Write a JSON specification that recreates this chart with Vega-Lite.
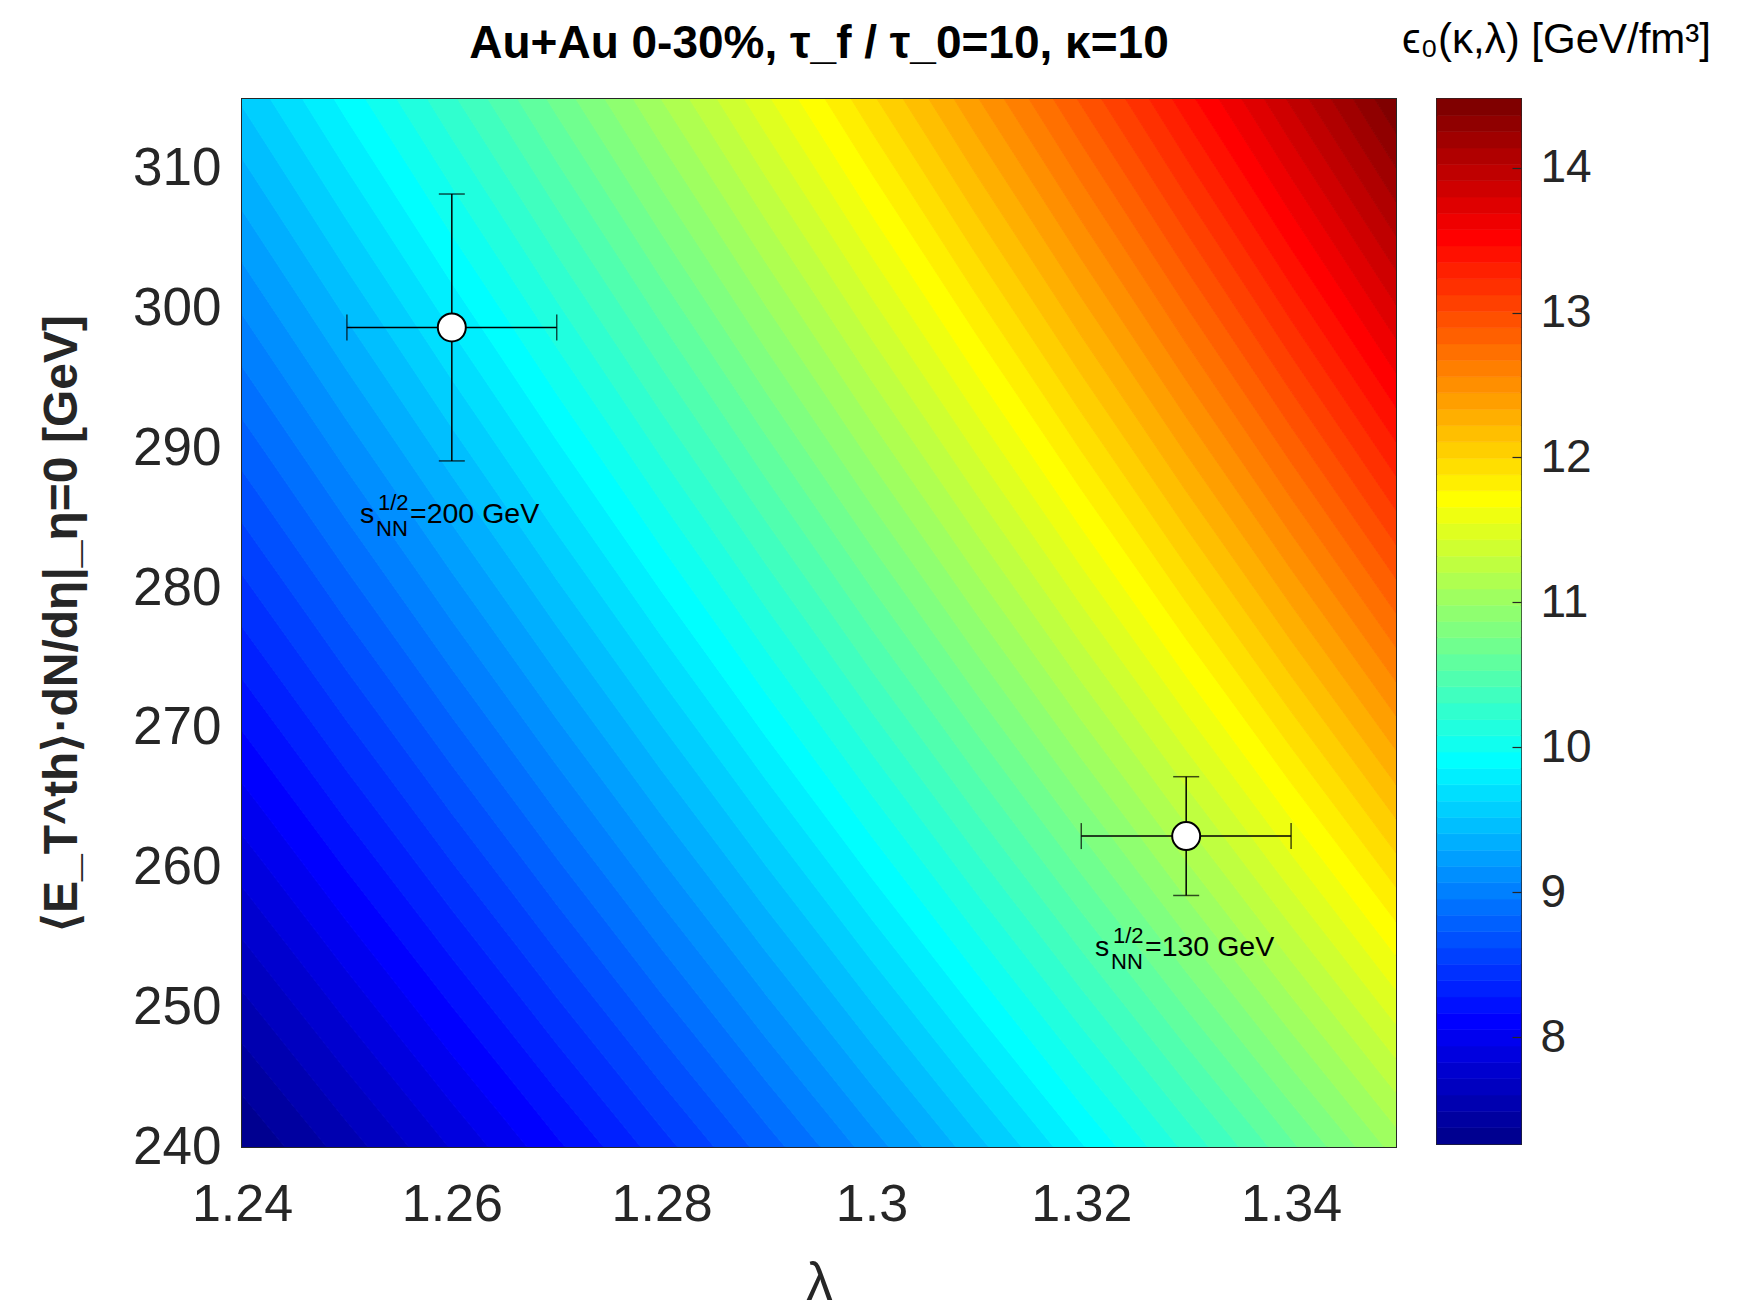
{
"$schema":"https://vega.github.io/schema/vega-lite/v6.json",
"background":"white",
"autosize":{"type":"pad"},
"padding":{"left":37,"top":17,"right":5,"bottom":0},
"bounds":"flush",
"spacing":41,
"config":{"font":"Liberation Sans","view":{"stroke":"#262626","strokeWidth":2},"axis":{"labelFont":"Liberation Sans","titleFont":"Liberation Sans","labelColor":"#262626","titleColor":"#262626","grid":false},"title":{"font":"Liberation Sans"}},
"datasets":{
"pts":[{"l":1.26,"lo":1.25,"hi":1.27,"e":298.65,"elo":289.1,"ehi":308.2},{"l":1.33,"lo":1.32,"hi":1.34,"e":262.25,"elo":258.0,"ehi":266.5}],
"ann":[{"lx":1.25125,"ly":284.66,"t":"=200 GeV"},{"lx":1.32131,"ly":253.67,"t":"=130 GeV"}],
"lev":[{"v":7.318,"lo":7.262,"hi":7.375},{"v":7.431,"lo":7.375,"hi":7.487},{"v":7.544,"lo":7.487,"hi":7.6},{"v":7.657,"lo":7.6,"hi":7.713},{"v":7.769,"lo":7.713,"hi":7.825},{"v":7.882,"lo":7.825,"hi":7.938},{"v":7.995,"lo":7.938,"hi":8.051},{"v":8.107,"lo":8.051,"hi":8.164},{"v":8.22,"lo":8.164,"hi":8.276},{"v":8.333,"lo":8.276,"hi":8.389},{"v":8.445,"lo":8.389,"hi":8.502},{"v":8.558,"lo":8.502,"hi":8.614},{"v":8.671,"lo":8.614,"hi":8.727},{"v":8.783,"lo":8.727,"hi":8.84},{"v":8.896,"lo":8.84,"hi":8.952},{"v":9.009,"lo":8.952,"hi":9.065},{"v":9.121,"lo":9.065,"hi":9.178},{"v":9.234,"lo":9.178,"hi":9.29},{"v":9.347,"lo":9.29,"hi":9.403},{"v":9.46,"lo":9.403,"hi":9.516},{"v":9.572,"lo":9.516,"hi":9.628},{"v":9.685,"lo":9.628,"hi":9.741},{"v":9.798,"lo":9.741,"hi":9.854},{"v":9.91,"lo":9.854,"hi":9.967},{"v":10.023,"lo":9.967,"hi":10.079},{"v":10.136,"lo":10.079,"hi":10.192},{"v":10.248,"lo":10.192,"hi":10.305},{"v":10.361,"lo":10.305,"hi":10.417},{"v":10.474,"lo":10.417,"hi":10.53},{"v":10.586,"lo":10.53,"hi":10.643},{"v":10.699,"lo":10.643,"hi":10.755},{"v":10.812,"lo":10.755,"hi":10.868},{"v":10.924,"lo":10.868,"hi":10.981},{"v":11.037,"lo":10.981,"hi":11.093},{"v":11.15,"lo":11.093,"hi":11.206},{"v":11.262,"lo":11.206,"hi":11.319},{"v":11.375,"lo":11.319,"hi":11.432},{"v":11.488,"lo":11.432,"hi":11.544},{"v":11.601,"lo":11.544,"hi":11.657},{"v":11.713,"lo":11.657,"hi":11.77},{"v":11.826,"lo":11.77,"hi":11.882},{"v":11.939,"lo":11.882,"hi":11.995},{"v":12.051,"lo":11.995,"hi":12.108},{"v":12.164,"lo":12.108,"hi":12.22},{"v":12.277,"lo":12.22,"hi":12.333},{"v":12.389,"lo":12.333,"hi":12.446},{"v":12.502,"lo":12.446,"hi":12.558},{"v":12.615,"lo":12.558,"hi":12.671},{"v":12.727,"lo":12.671,"hi":12.784},{"v":12.84,"lo":12.784,"hi":12.896},{"v":12.953,"lo":12.896,"hi":13.009},{"v":13.065,"lo":13.009,"hi":13.122},{"v":13.178,"lo":13.122,"hi":13.235},{"v":13.291,"lo":13.235,"hi":13.347},{"v":13.403,"lo":13.347,"hi":13.46},{"v":13.516,"lo":13.46,"hi":13.573},{"v":13.629,"lo":13.573,"hi":13.685},{"v":13.742,"lo":13.685,"hi":13.798},{"v":13.854,"lo":13.798,"hi":13.911},{"v":13.967,"lo":13.911,"hi":14.023},{"v":14.08,"lo":14.023,"hi":14.136},{"v":14.192,"lo":14.136,"hi":14.249},{"v":14.305,"lo":14.249,"hi":14.361},{"v":14.418,"lo":14.361,"hi":14.474}],
"bands":[
{"v":7.318,"l":1.24,"y":240,"y2":243.72},{"v":7.431,"l":1.24,"y":243.72,"y2":247.45},{"v":7.544,"l":1.24,"y":247.45,"y2":251.17},{"v":7.657,"l":1.24,"y":251.17,"y2":254.9},{"v":7.769,"l":1.24,"y":254.9,"y2":258.62},{"v":7.882,"l":1.24,"y":258.62,"y2":262.35},{"v":7.995,"l":1.24,"y":262.35,"y2":266.07},{"v":8.107,"l":1.24,"y":266.07,"y2":269.79},{"v":8.22,"l":1.24,"y":269.79,"y2":273.52},{"v":8.333,"l":1.24,"y":273.52,"y2":277.24},{"v":8.445,"l":1.24,"y":277.24,"y2":280.97},{"v":8.558,"l":1.24,"y":280.97,"y2":284.69},{"v":8.671,"l":1.24,"y":284.69,"y2":288.42},{"v":8.783,"l":1.24,"y":288.42,"y2":292.14},{"v":8.896,"l":1.24,"y":292.14,"y2":295.86},{"v":9.009,"l":1.24,"y":295.86,"y2":299.59},{"v":9.121,"l":1.24,"y":299.59,"y2":303.31},{"v":9.234,"l":1.24,"y":303.31,"y2":307.04},{"v":9.347,"l":1.24,"y":307.04,"y2":310.76},{"v":9.46,"l":1.24,"y":310.76,"y2":314.48},{"v":9.572,"l":1.24,"y":314.48,"y2":318.21},{"v":9.685,"l":1.24,"y":318.21,"y2":321.93},{"v":9.798,"l":1.24,"y":321.93,"y2":325.66},{"v":9.91,"l":1.24,"y":325.66,"y2":329.38},
{"v":7.318,"l":1.25,"y":231.06,"y2":234.64},{"v":7.431,"l":1.25,"y":234.64,"y2":238.23},{"v":7.544,"l":1.25,"y":238.23,"y2":241.81},{"v":7.657,"l":1.25,"y":241.81,"y2":245.4},{"v":7.769,"l":1.25,"y":245.4,"y2":248.98},{"v":7.882,"l":1.25,"y":248.98,"y2":252.57},{"v":7.995,"l":1.25,"y":252.57,"y2":256.15},{"v":8.107,"l":1.25,"y":256.15,"y2":259.74},{"v":8.22,"l":1.25,"y":259.74,"y2":263.32},{"v":8.333,"l":1.25,"y":263.32,"y2":266.91},{"v":8.445,"l":1.25,"y":266.91,"y2":270.49},{"v":8.558,"l":1.25,"y":270.49,"y2":274.08},{"v":8.671,"l":1.25,"y":274.08,"y2":277.67},{"v":8.783,"l":1.25,"y":277.67,"y2":281.25},{"v":8.896,"l":1.25,"y":281.25,"y2":284.84},{"v":9.009,"l":1.25,"y":284.84,"y2":288.42},{"v":9.121,"l":1.25,"y":288.42,"y2":292.01},{"v":9.234,"l":1.25,"y":292.01,"y2":295.59},{"v":9.347,"l":1.25,"y":295.59,"y2":299.18},{"v":9.46,"l":1.25,"y":299.18,"y2":302.76},{"v":9.572,"l":1.25,"y":302.76,"y2":306.35},{"v":9.685,"l":1.25,"y":306.35,"y2":309.93},{"v":9.798,"l":1.25,"y":309.93,"y2":313.52},{"v":9.91,"l":1.25,"y":313.52,"y2":317.11},{"v":10.023,"l":1.25,"y":317.11,"y2":320.69},{"v":10.136,"l":1.25,"y":320.69,"y2":324.28},{"v":10.248,"l":1.25,"y":324.28,"y2":327.86},
{"v":7.544,"l":1.26,"y":229.35,"y2":232.81},{"v":7.657,"l":1.26,"y":232.81,"y2":236.26},{"v":7.769,"l":1.26,"y":236.26,"y2":239.71},{"v":7.882,"l":1.26,"y":239.71,"y2":243.16},{"v":7.995,"l":1.26,"y":243.16,"y2":246.61},{"v":8.107,"l":1.26,"y":246.61,"y2":250.07},{"v":8.22,"l":1.26,"y":250.07,"y2":253.52},{"v":8.333,"l":1.26,"y":253.52,"y2":256.97},{"v":8.445,"l":1.26,"y":256.97,"y2":260.42},{"v":8.558,"l":1.26,"y":260.42,"y2":263.87},{"v":8.671,"l":1.26,"y":263.87,"y2":267.32},{"v":8.783,"l":1.26,"y":267.32,"y2":270.78},{"v":8.896,"l":1.26,"y":270.78,"y2":274.23},{"v":9.009,"l":1.26,"y":274.23,"y2":277.68},{"v":9.121,"l":1.26,"y":277.68,"y2":281.13},{"v":9.234,"l":1.26,"y":281.13,"y2":284.58},{"v":9.347,"l":1.26,"y":284.58,"y2":288.04},{"v":9.46,"l":1.26,"y":288.04,"y2":291.49},{"v":9.572,"l":1.26,"y":291.49,"y2":294.94},{"v":9.685,"l":1.26,"y":294.94,"y2":298.39},{"v":9.798,"l":1.26,"y":298.39,"y2":301.84},{"v":9.91,"l":1.26,"y":301.84,"y2":305.3},{"v":10.023,"l":1.26,"y":305.3,"y2":308.75},{"v":10.136,"l":1.26,"y":308.75,"y2":312.2},{"v":10.248,"l":1.26,"y":312.2,"y2":315.65},{"v":10.361,"l":1.26,"y":315.65,"y2":319.1},{"v":10.474,"l":1.26,"y":319.1,"y2":322.55},{"v":10.586,"l":1.26,"y":322.55,"y2":326.01},{"v":10.699,"l":1.26,"y":326.01,"y2":329.46},
{"v":7.882,"l":1.27,"y":230.77,"y2":234.1},{"v":7.995,"l":1.27,"y":234.1,"y2":237.42},{"v":8.107,"l":1.27,"y":237.42,"y2":240.74},{"v":8.22,"l":1.27,"y":240.74,"y2":244.07},{"v":8.333,"l":1.27,"y":244.07,"y2":247.39},{"v":8.445,"l":1.27,"y":247.39,"y2":250.71},{"v":8.558,"l":1.27,"y":250.71,"y2":254.03},{"v":8.671,"l":1.27,"y":254.03,"y2":257.36},{"v":8.783,"l":1.27,"y":257.36,"y2":260.68},{"v":8.896,"l":1.27,"y":260.68,"y2":264},{"v":9.009,"l":1.27,"y":264,"y2":267.33},{"v":9.121,"l":1.27,"y":267.33,"y2":270.65},{"v":9.234,"l":1.27,"y":270.65,"y2":273.97},{"v":9.347,"l":1.27,"y":273.97,"y2":277.3},{"v":9.46,"l":1.27,"y":277.3,"y2":280.62},{"v":9.572,"l":1.27,"y":280.62,"y2":283.94},{"v":9.685,"l":1.27,"y":283.94,"y2":287.27},{"v":9.798,"l":1.27,"y":287.27,"y2":290.59},{"v":9.91,"l":1.27,"y":290.59,"y2":293.91},{"v":10.023,"l":1.27,"y":293.91,"y2":297.24},{"v":10.136,"l":1.27,"y":297.24,"y2":300.56},{"v":10.248,"l":1.27,"y":300.56,"y2":303.88},{"v":10.361,"l":1.27,"y":303.88,"y2":307.21},{"v":10.474,"l":1.27,"y":307.21,"y2":310.53},{"v":10.586,"l":1.27,"y":310.53,"y2":313.85},{"v":10.699,"l":1.27,"y":313.85,"y2":317.17},{"v":10.812,"l":1.27,"y":317.17,"y2":320.5},{"v":10.924,"l":1.27,"y":320.5,"y2":323.82},{"v":11.037,"l":1.27,"y":323.82,"y2":327.14},{"v":11.15,"l":1.27,"y":327.14,"y2":330.47},
{"v":8.107,"l":1.28,"y":228.57,"y2":231.77},{"v":8.22,"l":1.28,"y":231.77,"y2":234.97},{"v":8.333,"l":1.28,"y":234.97,"y2":238.17},{"v":8.445,"l":1.28,"y":238.17,"y2":241.37},{"v":8.558,"l":1.28,"y":241.37,"y2":244.57},{"v":8.671,"l":1.28,"y":244.57,"y2":247.77},{"v":8.783,"l":1.28,"y":247.77,"y2":250.97},{"v":8.896,"l":1.28,"y":250.97,"y2":254.17},{"v":9.009,"l":1.28,"y":254.17,"y2":257.36},{"v":9.121,"l":1.28,"y":257.36,"y2":260.56},{"v":9.234,"l":1.28,"y":260.56,"y2":263.76},{"v":9.347,"l":1.28,"y":263.76,"y2":266.96},{"v":9.46,"l":1.28,"y":266.96,"y2":270.16},{"v":9.572,"l":1.28,"y":270.16,"y2":273.36},{"v":9.685,"l":1.28,"y":273.36,"y2":276.56},{"v":9.798,"l":1.28,"y":276.56,"y2":279.76},{"v":9.91,"l":1.28,"y":279.76,"y2":282.96},{"v":10.023,"l":1.28,"y":282.96,"y2":286.16},{"v":10.136,"l":1.28,"y":286.16,"y2":289.36},{"v":10.248,"l":1.28,"y":289.36,"y2":292.56},{"v":10.361,"l":1.28,"y":292.56,"y2":295.76},{"v":10.474,"l":1.28,"y":295.76,"y2":298.96},{"v":10.586,"l":1.28,"y":298.96,"y2":302.16},{"v":10.699,"l":1.28,"y":302.16,"y2":305.35},{"v":10.812,"l":1.28,"y":305.35,"y2":308.55},{"v":10.924,"l":1.28,"y":308.55,"y2":311.75},{"v":11.037,"l":1.28,"y":311.75,"y2":314.95},{"v":11.15,"l":1.28,"y":314.95,"y2":318.15},{"v":11.262,"l":1.28,"y":318.15,"y2":321.35},{"v":11.375,"l":1.28,"y":321.35,"y2":324.55},{"v":11.488,"l":1.28,"y":324.55,"y2":327.75},
{"v":8.445,"l":1.29,"y":229.29,"y2":232.37},{"v":8.558,"l":1.29,"y":232.37,"y2":235.45},{"v":8.671,"l":1.29,"y":235.45,"y2":238.53},{"v":8.783,"l":1.29,"y":238.53,"y2":241.61},{"v":8.896,"l":1.29,"y":241.61,"y2":244.69},{"v":9.009,"l":1.29,"y":244.69,"y2":247.77},{"v":9.121,"l":1.29,"y":247.77,"y2":250.85},{"v":9.234,"l":1.29,"y":250.85,"y2":253.93},{"v":9.347,"l":1.29,"y":253.93,"y2":257.01},{"v":9.46,"l":1.29,"y":257.01,"y2":260.09},{"v":9.572,"l":1.29,"y":260.09,"y2":263.17},{"v":9.685,"l":1.29,"y":263.17,"y2":266.25},{"v":9.798,"l":1.29,"y":266.25,"y2":269.33},{"v":9.91,"l":1.29,"y":269.33,"y2":272.41},{"v":10.023,"l":1.29,"y":272.41,"y2":275.5},{"v":10.136,"l":1.29,"y":275.5,"y2":278.58},{"v":10.248,"l":1.29,"y":278.58,"y2":281.66},{"v":10.361,"l":1.29,"y":281.66,"y2":284.74},{"v":10.474,"l":1.29,"y":284.74,"y2":287.82},{"v":10.586,"l":1.29,"y":287.82,"y2":290.9},{"v":10.699,"l":1.29,"y":290.9,"y2":293.98},{"v":10.812,"l":1.29,"y":293.98,"y2":297.06},{"v":10.924,"l":1.29,"y":297.06,"y2":300.14},{"v":11.037,"l":1.29,"y":300.14,"y2":303.22},{"v":11.15,"l":1.29,"y":303.22,"y2":306.3},{"v":11.262,"l":1.29,"y":306.3,"y2":309.38},{"v":11.375,"l":1.29,"y":309.38,"y2":312.46},{"v":11.488,"l":1.29,"y":312.46,"y2":315.54},{"v":11.601,"l":1.29,"y":315.54,"y2":318.62},{"v":11.713,"l":1.29,"y":318.62,"y2":321.7},{"v":11.826,"l":1.29,"y":321.7,"y2":324.78},{"v":11.939,"l":1.29,"y":324.78,"y2":327.86},
{"v":8.783,"l":1.3,"y":229.64,"y2":232.61},{"v":8.896,"l":1.3,"y":232.61,"y2":235.57},{"v":9.009,"l":1.3,"y":235.57,"y2":238.54},{"v":9.121,"l":1.3,"y":238.54,"y2":241.5},{"v":9.234,"l":1.3,"y":241.5,"y2":244.47},{"v":9.347,"l":1.3,"y":244.47,"y2":247.43},{"v":9.46,"l":1.3,"y":247.43,"y2":250.4},{"v":9.572,"l":1.3,"y":250.4,"y2":253.36},{"v":9.685,"l":1.3,"y":253.36,"y2":256.33},{"v":9.798,"l":1.3,"y":256.33,"y2":259.29},{"v":9.91,"l":1.3,"y":259.29,"y2":262.26},{"v":10.023,"l":1.3,"y":262.26,"y2":265.22},{"v":10.136,"l":1.3,"y":265.22,"y2":268.19},{"v":10.248,"l":1.3,"y":268.19,"y2":271.15},{"v":10.361,"l":1.3,"y":271.15,"y2":274.12},{"v":10.474,"l":1.3,"y":274.12,"y2":277.09},{"v":10.586,"l":1.3,"y":277.09,"y2":280.05},{"v":10.699,"l":1.3,"y":280.05,"y2":283.02},{"v":10.812,"l":1.3,"y":283.02,"y2":285.98},{"v":10.924,"l":1.3,"y":285.98,"y2":288.95},{"v":11.037,"l":1.3,"y":288.95,"y2":291.91},{"v":11.15,"l":1.3,"y":291.91,"y2":294.88},{"v":11.262,"l":1.3,"y":294.88,"y2":297.84},{"v":11.375,"l":1.3,"y":297.84,"y2":300.81},{"v":11.488,"l":1.3,"y":300.81,"y2":303.77},{"v":11.601,"l":1.3,"y":303.77,"y2":306.74},{"v":11.713,"l":1.3,"y":306.74,"y2":309.7},{"v":11.826,"l":1.3,"y":309.7,"y2":312.67},{"v":11.939,"l":1.3,"y":312.67,"y2":315.63},{"v":12.051,"l":1.3,"y":315.63,"y2":318.6},{"v":12.164,"l":1.3,"y":318.6,"y2":321.56},{"v":12.277,"l":1.3,"y":321.56,"y2":324.53},{"v":12.389,"l":1.3,"y":324.53,"y2":327.49},
{"v":9.121,"l":1.31,"y":229.65,"y2":232.51},{"v":9.234,"l":1.31,"y":232.51,"y2":235.36},{"v":9.347,"l":1.31,"y":235.36,"y2":238.22},{"v":9.46,"l":1.31,"y":238.22,"y2":241.07},{"v":9.572,"l":1.31,"y":241.07,"y2":243.93},{"v":9.685,"l":1.31,"y":243.93,"y2":246.78},{"v":9.798,"l":1.31,"y":246.78,"y2":249.64},{"v":9.91,"l":1.31,"y":249.64,"y2":252.49},{"v":10.023,"l":1.31,"y":252.49,"y2":255.35},{"v":10.136,"l":1.31,"y":255.35,"y2":258.2},{"v":10.248,"l":1.31,"y":258.2,"y2":261.06},{"v":10.361,"l":1.31,"y":261.06,"y2":263.91},{"v":10.474,"l":1.31,"y":263.91,"y2":266.77},{"v":10.586,"l":1.31,"y":266.77,"y2":269.62},{"v":10.699,"l":1.31,"y":269.62,"y2":272.48},{"v":10.812,"l":1.31,"y":272.48,"y2":275.33},{"v":10.924,"l":1.31,"y":275.33,"y2":278.19},{"v":11.037,"l":1.31,"y":278.19,"y2":281.04},{"v":11.15,"l":1.31,"y":281.04,"y2":283.9},{"v":11.262,"l":1.31,"y":283.9,"y2":286.75},{"v":11.375,"l":1.31,"y":286.75,"y2":289.61},{"v":11.488,"l":1.31,"y":289.61,"y2":292.46},{"v":11.601,"l":1.31,"y":292.46,"y2":295.32},{"v":11.713,"l":1.31,"y":295.32,"y2":298.17},{"v":11.826,"l":1.31,"y":298.17,"y2":301.02},{"v":11.939,"l":1.31,"y":301.02,"y2":303.88},{"v":12.051,"l":1.31,"y":303.88,"y2":306.73},{"v":12.164,"l":1.31,"y":306.73,"y2":309.59},{"v":12.277,"l":1.31,"y":309.59,"y2":312.44},{"v":12.389,"l":1.31,"y":312.44,"y2":315.3},{"v":12.502,"l":1.31,"y":315.3,"y2":318.15},{"v":12.615,"l":1.31,"y":318.15,"y2":321.01},{"v":12.727,"l":1.31,"y":321.01,"y2":323.86},{"v":12.84,"l":1.31,"y":323.86,"y2":326.72},{"v":12.953,"l":1.31,"y":326.72,"y2":329.57},
{"v":9.46,"l":1.32,"y":229.34,"y2":232.09},{"v":9.572,"l":1.32,"y":232.09,"y2":234.84},{"v":9.685,"l":1.32,"y":234.84,"y2":237.59},{"v":9.798,"l":1.32,"y":237.59,"y2":240.34},{"v":9.91,"l":1.32,"y":240.34,"y2":243.08},{"v":10.023,"l":1.32,"y":243.08,"y2":245.83},{"v":10.136,"l":1.32,"y":245.83,"y2":248.58},{"v":10.248,"l":1.32,"y":248.58,"y2":251.33},{"v":10.361,"l":1.32,"y":251.33,"y2":254.08},{"v":10.474,"l":1.32,"y":254.08,"y2":256.83},{"v":10.586,"l":1.32,"y":256.83,"y2":259.57},{"v":10.699,"l":1.32,"y":259.57,"y2":262.32},{"v":10.812,"l":1.32,"y":262.32,"y2":265.07},{"v":10.924,"l":1.32,"y":265.07,"y2":267.82},{"v":11.037,"l":1.32,"y":267.82,"y2":270.57},{"v":11.15,"l":1.32,"y":270.57,"y2":273.32},{"v":11.262,"l":1.32,"y":273.32,"y2":276.07},{"v":11.375,"l":1.32,"y":276.07,"y2":278.81},{"v":11.488,"l":1.32,"y":278.81,"y2":281.56},{"v":11.601,"l":1.32,"y":281.56,"y2":284.31},{"v":11.713,"l":1.32,"y":284.31,"y2":287.06},{"v":11.826,"l":1.32,"y":287.06,"y2":289.81},{"v":11.939,"l":1.32,"y":289.81,"y2":292.56},{"v":12.051,"l":1.32,"y":292.56,"y2":295.3},{"v":12.164,"l":1.32,"y":295.3,"y2":298.05},{"v":12.277,"l":1.32,"y":298.05,"y2":300.8},{"v":12.389,"l":1.32,"y":300.8,"y2":303.55},{"v":12.502,"l":1.32,"y":303.55,"y2":306.3},{"v":12.615,"l":1.32,"y":306.3,"y2":309.05},{"v":12.727,"l":1.32,"y":309.05,"y2":311.8},{"v":12.84,"l":1.32,"y":311.8,"y2":314.54},{"v":12.953,"l":1.32,"y":314.54,"y2":317.29},{"v":13.065,"l":1.32,"y":317.29,"y2":320.04},{"v":13.178,"l":1.32,"y":320.04,"y2":322.79},{"v":13.291,"l":1.32,"y":322.79,"y2":325.54},{"v":13.403,"l":1.32,"y":325.54,"y2":328.29},
{"v":9.798,"l":1.33,"y":228.73,"y2":231.38},{"v":9.91,"l":1.33,"y":231.38,"y2":234.02},{"v":10.023,"l":1.33,"y":234.02,"y2":236.67},{"v":10.136,"l":1.33,"y":236.67,"y2":239.32},{"v":10.248,"l":1.33,"y":239.32,"y2":241.96},{"v":10.361,"l":1.33,"y":241.96,"y2":244.61},{"v":10.474,"l":1.33,"y":244.61,"y2":247.25},{"v":10.586,"l":1.33,"y":247.25,"y2":249.9},{"v":10.699,"l":1.33,"y":249.9,"y2":252.55},{"v":10.812,"l":1.33,"y":252.55,"y2":255.19},{"v":10.924,"l":1.33,"y":255.19,"y2":257.84},{"v":11.037,"l":1.33,"y":257.84,"y2":260.48},{"v":11.15,"l":1.33,"y":260.48,"y2":263.13},{"v":11.262,"l":1.33,"y":263.13,"y2":265.78},{"v":11.375,"l":1.33,"y":265.78,"y2":268.42},{"v":11.488,"l":1.33,"y":268.42,"y2":271.07},{"v":11.601,"l":1.33,"y":271.07,"y2":273.71},{"v":11.713,"l":1.33,"y":273.71,"y2":276.36},{"v":11.826,"l":1.33,"y":276.36,"y2":279.01},{"v":11.939,"l":1.33,"y":279.01,"y2":281.65},{"v":12.051,"l":1.33,"y":281.65,"y2":284.3},{"v":12.164,"l":1.33,"y":284.3,"y2":286.94},{"v":12.277,"l":1.33,"y":286.94,"y2":289.59},{"v":12.389,"l":1.33,"y":289.59,"y2":292.24},{"v":12.502,"l":1.33,"y":292.24,"y2":294.88},{"v":12.615,"l":1.33,"y":294.88,"y2":297.53},{"v":12.727,"l":1.33,"y":297.53,"y2":300.17},{"v":12.84,"l":1.33,"y":300.17,"y2":302.82},{"v":12.953,"l":1.33,"y":302.82,"y2":305.47},{"v":13.065,"l":1.33,"y":305.47,"y2":308.11},{"v":13.178,"l":1.33,"y":308.11,"y2":310.76},{"v":13.291,"l":1.33,"y":310.76,"y2":313.41},{"v":13.403,"l":1.33,"y":313.41,"y2":316.05},{"v":13.516,"l":1.33,"y":316.05,"y2":318.7},{"v":13.629,"l":1.33,"y":318.7,"y2":321.34},{"v":13.742,"l":1.33,"y":321.34,"y2":323.99},{"v":13.854,"l":1.33,"y":323.99,"y2":326.64},{"v":13.967,"l":1.33,"y":326.64,"y2":329.28},
{"v":10.248,"l":1.34,"y":230.4,"y2":232.95},{"v":10.361,"l":1.34,"y":232.95,"y2":235.49},{"v":10.474,"l":1.34,"y":235.49,"y2":238.04},{"v":10.586,"l":1.34,"y":238.04,"y2":240.59},{"v":10.699,"l":1.34,"y":240.59,"y2":243.14},{"v":10.812,"l":1.34,"y":243.14,"y2":245.68},{"v":10.924,"l":1.34,"y":245.68,"y2":248.23},{"v":11.037,"l":1.34,"y":248.23,"y2":250.78},{"v":11.15,"l":1.34,"y":250.78,"y2":253.33},{"v":11.262,"l":1.34,"y":253.33,"y2":255.87},{"v":11.375,"l":1.34,"y":255.87,"y2":258.42},{"v":11.488,"l":1.34,"y":258.42,"y2":260.97},{"v":11.601,"l":1.34,"y":260.97,"y2":263.52},{"v":11.713,"l":1.34,"y":263.52,"y2":266.06},{"v":11.826,"l":1.34,"y":266.06,"y2":268.61},{"v":11.939,"l":1.34,"y":268.61,"y2":271.16},{"v":12.051,"l":1.34,"y":271.16,"y2":273.71},{"v":12.164,"l":1.34,"y":273.71,"y2":276.25},{"v":12.277,"l":1.34,"y":276.25,"y2":278.8},{"v":12.389,"l":1.34,"y":278.8,"y2":281.35},{"v":12.502,"l":1.34,"y":281.35,"y2":283.89},{"v":12.615,"l":1.34,"y":283.89,"y2":286.44},{"v":12.727,"l":1.34,"y":286.44,"y2":288.99},{"v":12.84,"l":1.34,"y":288.99,"y2":291.54},{"v":12.953,"l":1.34,"y":291.54,"y2":294.08},{"v":13.065,"l":1.34,"y":294.08,"y2":296.63},{"v":13.178,"l":1.34,"y":296.63,"y2":299.18},{"v":13.291,"l":1.34,"y":299.18,"y2":301.73},{"v":13.403,"l":1.34,"y":301.73,"y2":304.27},{"v":13.516,"l":1.34,"y":304.27,"y2":306.82},{"v":13.629,"l":1.34,"y":306.82,"y2":309.37},{"v":13.742,"l":1.34,"y":309.37,"y2":311.92},{"v":13.854,"l":1.34,"y":311.92,"y2":314.46},{"v":13.967,"l":1.34,"y":314.46,"y2":317.01},{"v":14.08,"l":1.34,"y":317.01,"y2":319.56},{"v":14.192,"l":1.34,"y":319.56,"y2":322.11},{"v":14.305,"l":1.34,"y":322.11,"y2":324.65},{"v":14.418,"l":1.34,"y":324.65,"y2":327.2},
{"v":10.586,"l":1.35,"y":229.16,"y2":231.62},{"v":10.699,"l":1.35,"y":231.62,"y2":234.07},{"v":10.812,"l":1.35,"y":234.07,"y2":236.52},{"v":10.924,"l":1.35,"y":236.52,"y2":238.97},{"v":11.037,"l":1.35,"y":238.97,"y2":241.43},{"v":11.15,"l":1.35,"y":241.43,"y2":243.88},{"v":11.262,"l":1.35,"y":243.88,"y2":246.33},{"v":11.375,"l":1.35,"y":246.33,"y2":248.78},{"v":11.488,"l":1.35,"y":248.78,"y2":251.24},{"v":11.601,"l":1.35,"y":251.24,"y2":253.69},{"v":11.713,"l":1.35,"y":253.69,"y2":256.14},{"v":11.826,"l":1.35,"y":256.14,"y2":258.59},{"v":11.939,"l":1.35,"y":258.59,"y2":261.05},{"v":12.051,"l":1.35,"y":261.05,"y2":263.5},{"v":12.164,"l":1.35,"y":263.5,"y2":265.95},{"v":12.277,"l":1.35,"y":265.95,"y2":268.4},{"v":12.389,"l":1.35,"y":268.4,"y2":270.86},{"v":12.502,"l":1.35,"y":270.86,"y2":273.31},{"v":12.615,"l":1.35,"y":273.31,"y2":275.76},{"v":12.727,"l":1.35,"y":275.76,"y2":278.21},{"v":12.84,"l":1.35,"y":278.21,"y2":280.67},{"v":12.953,"l":1.35,"y":280.67,"y2":283.12},{"v":13.065,"l":1.35,"y":283.12,"y2":285.57},{"v":13.178,"l":1.35,"y":285.57,"y2":288.02},{"v":13.291,"l":1.35,"y":288.02,"y2":290.47},{"v":13.403,"l":1.35,"y":290.47,"y2":292.93},{"v":13.516,"l":1.35,"y":292.93,"y2":295.38},{"v":13.629,"l":1.35,"y":295.38,"y2":297.83},{"v":13.742,"l":1.35,"y":297.83,"y2":300.28},{"v":13.854,"l":1.35,"y":300.28,"y2":302.74},{"v":13.967,"l":1.35,"y":302.74,"y2":305.19},{"v":14.08,"l":1.35,"y":305.19,"y2":307.64},{"v":14.192,"l":1.35,"y":307.64,"y2":310.09},{"v":14.305,"l":1.35,"y":310.09,"y2":312.55},{"v":14.418,"l":1.35,"y":312.55,"y2":315}
]},
"hconcat":[
{"width":1154,"height":1048,
"title":{"text":"Au+Au 0-30%, τ_f / τ_0=10, κ=10","fontSize":46,"fontWeight":"bold","color":"#000000","anchor":"middle","frame":"group","baseline":"alphabetic","offset":-5},
"layer":[
{"data":{"name":"bands"},"mark":{"type":"area","orient":"vertical","clip":true,"strokeWidth":1},
"encoding":{
"x":{"field":"l","type":"quantitative","scale":{"domain":[1.24,1.35],"nice":false,"zero":false},"axis":{"values":[1.24,1.26,1.28,1.3,1.32,1.34],"format":"~g","title":"λ","ticks":false,"domain":false,"labelFlush":false,"labelFontSize":52,"labelPadding":32,"titleFontSize":53,"titleFontWeight":"normal","titlePadding":27}},
"y":{"field":"y","type":"quantitative","stack":null,"scale":{"domain":[240,315],"nice":false,"zero":false},"axis":{"values":[240,250,260,270,280,290,300,310],"title":"⟨E_T^th⟩·dN/dη|_η=0 [GeV]","ticks":false,"domain":false,"labelFlush":false,"labelFontSize":53,"labelPadding":21,"titleFontSize":48,"titleFontWeight":"bold","titlePadding":46}},
"y2":{"field":"y2"},
"color":{"field":"v","type":"quantitative","scale":{"type":"linear","domain":[7.262,8.1072,9.9102,11.7132,13.5162,14.474],"range":["#000088","#0000ff","#00ffff","#ffff00","#ff0000","#780000"],"interpolate":"rgb","zero":false,"nice":false},"legend":null},
"stroke":{"field":"v","type":"quantitative","scale":{"type":"linear","domain":[7.262,8.1072,9.9102,11.7132,13.5162,14.474],"range":["#000088","#0000ff","#00ffff","#ffff00","#ff0000","#780000"],"interpolate":"rgb","zero":false,"nice":false},"legend":null}
}},
{"data":{"name":"pts"},"mark":{"type":"rule","color":"black","strokeWidth":1.5},"encoding":{"x":{"field":"l","type":"quantitative"},"y":{"field":"elo","type":"quantitative"},"y2":{"field":"ehi"}}},
{"data":{"name":"pts"},"mark":{"type":"rule","color":"black","strokeWidth":1.5},"encoding":{"x":{"field":"lo","type":"quantitative"},"x2":{"field":"hi"},"y":{"field":"e","type":"quantitative"}}},
{"data":{"name":"pts"},"mark":{"type":"tick","orient":"horizontal","size":26,"thickness":1.5,"color":"black"},"encoding":{"x":{"field":"l","type":"quantitative"},"y":{"field":"elo","type":"quantitative"}}},
{"data":{"name":"pts"},"mark":{"type":"tick","orient":"horizontal","size":26,"thickness":1.5,"color":"black"},"encoding":{"x":{"field":"l","type":"quantitative"},"y":{"field":"ehi","type":"quantitative"}}},
{"data":{"name":"pts"},"mark":{"type":"tick","orient":"vertical","size":26,"thickness":1.5,"color":"black"},"encoding":{"x":{"field":"lo","type":"quantitative"},"y":{"field":"e","type":"quantitative"}}},
{"data":{"name":"pts"},"mark":{"type":"tick","orient":"vertical","size":26,"thickness":1.5,"color":"black"},"encoding":{"x":{"field":"hi","type":"quantitative"},"y":{"field":"e","type":"quantitative"}}},
{"data":{"name":"pts"},"mark":{"type":"point","shape":"circle","size":784,"filled":true,"fill":"white","stroke":"black","strokeWidth":2,"opacity":1},"encoding":{"x":{"field":"l","type":"quantitative"},"y":{"field":"e","type":"quantitative"}}},
{"data":{"name":"ann"},"mark":{"type":"text","text":"s","align":"left","baseline":"alphabetic","fontSize":28.5,"color":"black"},"encoding":{"x":{"field":"lx","type":"quantitative"},"y":{"field":"ly","type":"quantitative"}}},
{"data":{"name":"ann"},"mark":{"type":"text","text":"NN","align":"left","baseline":"alphabetic","fontSize":22,"dx":16,"dy":13,"color":"black"},"encoding":{"x":{"field":"lx","type":"quantitative"},"y":{"field":"ly","type":"quantitative"}}},
{"data":{"name":"ann"},"mark":{"type":"text","text":"1/2","align":"left","baseline":"alphabetic","fontSize":22,"dx":18,"dy":-13,"color":"black"},"encoding":{"x":{"field":"lx","type":"quantitative"},"y":{"field":"ly","type":"quantitative"}}},
{"data":{"name":"ann"},"mark":{"type":"text","align":"left","baseline":"alphabetic","fontSize":28.5,"dx":50,"color":"black"},"encoding":{"x":{"field":"lx","type":"quantitative"},"y":{"field":"ly","type":"quantitative"},"text":{"field":"t"}}}
]},
{"width":84,"height":1045,
"title":{"text":"ϵ₀(κ,λ) [GeV/fm³]","fontSize":42,"fontWeight":"normal","color":"#000000","anchor":"start","frame":"group","dx":-35,"baseline":"alphabetic","offset":4},
"data":{"name":"lev"},
"mark":{"type":"rect","strokeWidth":0.6},
"encoding":{
"y":{"field":"lo","type":"quantitative","scale":{"domain":[7.262,14.474],"nice":false,"zero":false},"axis":{"orient":"right","values":[8,9,10,11,12,13,14],"format":"d","title":null,"labelFontSize":46,"labelPadding":28,"ticks":true,"tickSize":-9,"tickColor":"#262626","tickWidth":1.2,"domain":false,"grid":false,"zindex":1}},
"y2":{"field":"hi"},
"color":{"field":"v","type":"quantitative","scale":{"type":"linear","domain":[7.262,8.1072,9.9102,11.7132,13.5162,14.474],"range":["#000088","#0000ff","#00ffff","#ffff00","#ff0000","#780000"],"interpolate":"rgb","zero":false,"nice":false},"legend":null},
"stroke":{"field":"v","type":"quantitative","scale":{"type":"linear","domain":[7.262,8.1072,9.9102,11.7132,13.5162,14.474],"range":["#000088","#0000ff","#00ffff","#ffff00","#ff0000","#780000"],"interpolate":"rgb","zero":false,"nice":false},"legend":null}
}}
]
}
